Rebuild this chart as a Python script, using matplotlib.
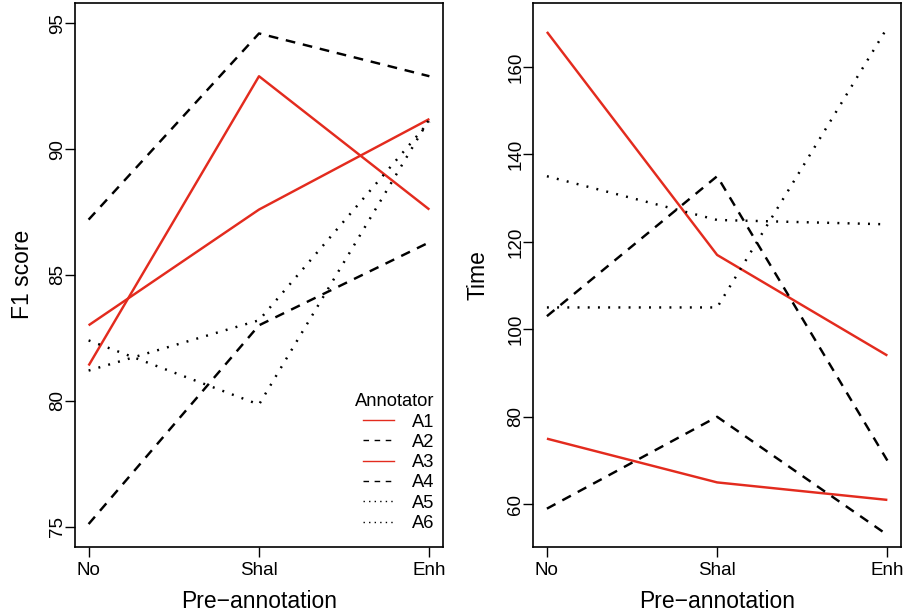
import matplotlib
matplotlib.use('Agg')
import matplotlib.pyplot as plt
from matplotlib.lines import Line2D

# === Data ===
conditions = ['No', 'Shal', 'Enh']
annotators = ['A1', 'A2', 'A3', 'A4', 'A5', 'A6']

# F1 score per annotator (No, Shal, Enh)
f1_a1 = [83.0, 87.6, 91.2]
f1_a2 = [87.2, 94.6, 92.9]
f1_a3 = [81.4, 92.9, 87.6]
f1_a4 = [75.1, 83.0, 86.3]
f1_a5 = [82.4, 79.85, 91.2]
f1_a6 = [81.2, 83.2, 91.1]

# Time per annotator (No, Shal, Enh)
time_a1 = [168, 117, 94]
time_a2 = [103, 135, 70]
time_a3 = [75, 65, 61]
time_a4 = [59, 80, 53]
time_a5 = [135, 125, 124]
time_a6 = [105, 105, 169]

f1_series = [f1_a1, f1_a2, f1_a3, f1_a4, f1_a5, f1_a6]
time_series = [time_a1, time_a2, time_a3, time_a4, time_a5, time_a6]

# === Styles (R interaction.plot look) ===
RED = '#e32b1e'
styles = [
    {'color': RED, 'dashes': None},
    {'color': 'black', 'dashes': (4.0, 3.2)},
    {'color': RED, 'dashes': None},
    {'color': 'black', 'dashes': (4.0, 3.2)},
    {'color': 'black', 'dashes': (0.8, 3.4)},
    {'color': 'black', 'dashes': (0.8, 3.4)},
]
LW = 1.75

plt.rcParams['font.family'] = ['Liberation Sans', 'DejaVu Sans']

fig = plt.figure(figsize=(9.11, 6.14), dpi=100)
ax1 = fig.add_axes([0.0823, 0.1096, 0.404, 0.8855])
ax2 = fig.add_axes([0.5854, 0.1096, 0.4036, 0.8855])

xpos = [1, 2, 3]


def draw(ax, series):
    for vals, st in zip(series, styles):
        line, = ax.plot(xpos, vals, color=st['color'], lw=LW,
                        solid_capstyle='butt', dash_capstyle='butt')
        if st['dashes'] is not None:
            line.set_dashes(st['dashes'])
    ax.set_xlim(0.92, 3.08)
    ax.set_xticks(xpos)
    ax.set_xticklabels(conditions)
    ax.tick_params(axis='both', length=7, width=1, labelsize=13.5,
                   direction='out')
    ax.tick_params(axis='x', pad=4)
    ax.tick_params(axis='y', pad=-0.5)
    for sp in ax.spines.values():
        sp.set_linewidth(1.2)
    ax.set_xlabel('Pre\u2212annotation', fontsize=16.5, labelpad=8)


def rotate_yticks(ax):
    for lab in ax.get_yticklabels():
        lab.set_rotation(90)
        lab.set_va('center')


draw(ax1, f1_series)
ax1.set_ylim(74.2, 95.81)
ax1.set_yticks([75, 80, 85, 90, 95])
rotate_yticks(ax1)
ax1.set_ylabel('F1 score', fontsize=16.5, labelpad=11)

draw(ax2, time_series)
ax2.set_ylim(50.3, 174.6)
ax2.set_yticks([60, 80, 100, 120, 140, 160])
rotate_yticks(ax2)
ax2.set_ylabel('Time', fontsize=16.5, labelpad=13)

# legend in left panel
handles = []
for st in styles:
    h = Line2D([], [], color=st['color'], lw=1.0)
    if st['dashes'] is not None:
        h.set_dashes((4, 4) if st['dashes'][0] > 1 else (1, 3))
    handles.append(h)
leg = ax1.legend(handles, annotators, title='Annotator', frameon=False,
                 loc='lower right', bbox_to_anchor=(1.017, 0.0),
                 fontsize=13.2, title_fontsize=13.2, handlelength=1.7,
                 handletextpad=1.0, labelspacing=0.18, borderaxespad=0.4,
                 alignment='right')

fig.savefig('out.png', dpi=100)
